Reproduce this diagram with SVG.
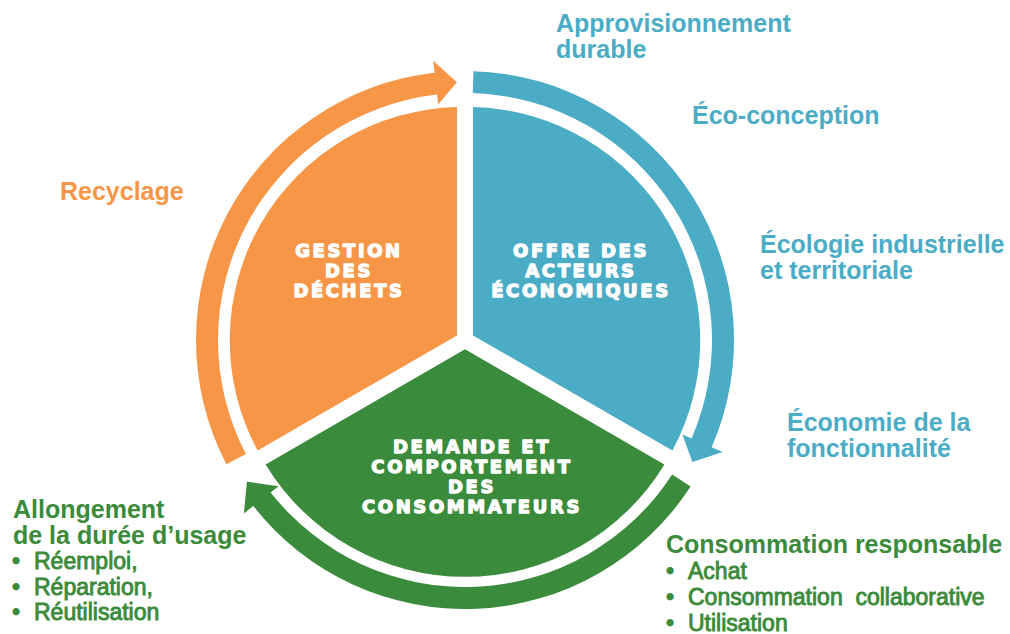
<svg xmlns="http://www.w3.org/2000/svg" width="1010" height="634" viewBox="0 0 1010 634">
  <style>
    .seg-label { font-family: "DejaVu Sans", "Liberation Sans", sans-serif; font-weight: bold; font-size: 18px; letter-spacing: 2.6px; fill: #ffffff; stroke: #ffffff; stroke-width: 1.3px; stroke-linejoin: round; text-anchor: middle; }
    .head { font-family: "Liberation Sans", Arial, sans-serif; font-weight: bold; font-size: 25px; }
    .item { font-family: "Liberation Sans", Arial, sans-serif; font-weight: normal; font-size: 23px; stroke-width: 0.9px; }
    .orange { fill: #F79646; }
    .blue { fill: #4BACC6; }
    .green { fill: #3A8C3C; }
    .t-orange { fill: #F79646; }
    .t-blue { fill: #4BACC6; }
    .t-green { fill: #3B8B3B; stroke: #3B8B3B; }
    .t-green.head { stroke: none; }
  </style>
  <rect width="1010" height="634" fill="#ffffff"/>

  <g id="connectors">
    <path id="arrow-orange" class="orange" d="M226.39,464.21 A269,269 0 0 1 434.55,72.73 L433.19,60.81 L456.90,82.13 L438.17,104.52 L437.04,94.59 A247,247 0 0 0 245.91,454.05 Z"/>
    <path id="arrow-blue" class="blue" d="M473.45,71.13 A269,269 0 0 1 711.69,447.26 L722.69,452.05 L692.38,461.92 L682.34,434.50 L691.51,438.49 A247,247 0 0 0 472.76,93.12 Z"/>
    <path id="arrow-green" class="green" d="M690.60,486.51 A269,269 0 0 1 253.31,505.98 L243.87,513.39 L246.95,481.61 L278.50,486.24 L270.63,492.41 A247,247 0 0 0 672.15,474.53 Z"/>
  </g>

  <g id="node-gestion">
    <path class="orange" d="M457,335.4 L257.6,450.5 A233,233 0 0 1 457,107.1 Z"/>
    <text class="seg-label" x="349" y="257">GESTION</text>
    <text class="seg-label" x="349" y="277">DES</text>
    <text class="seg-label" x="349" y="297">DÉCHETS</text>
  </g>

  <g id="node-offre">
    <path class="blue" d="M473,335.4 L473,107.1 A233,233 0 0 1 672.4,450.5 Z"/>
    <text class="seg-label" x="581" y="257">OFFRE DES</text>
    <text class="seg-label" x="581" y="277">ACTEURS</text>
    <text class="seg-label" x="581" y="297">ÉCONOMIQUES</text>
  </g>

  <g id="node-demande">
    <path class="green" d="M465,349.2 L664.4,464.4 A233,233 0 0 1 265.6,464.4 Z"/>
    <text class="seg-label" x="472" y="453">DEMANDE ET</text>
    <text class="seg-label" x="472" y="473">COMPORTEMENT</text>
    <text class="seg-label" x="472" y="493">DES</text>
    <text class="seg-label" x="472" y="513">CONSOMMATEURS</text>
  </g>

  <g id="labels">
    <text class="head t-blue" x="556" y="32">Approvisionnement</text>
    <text class="head t-blue" x="556" y="58">durable</text>
    <text class="head t-blue" x="692" y="124">Éco-conception</text>
    <text class="head t-blue" x="760" y="253">Écologie industrielle</text>
    <text class="head t-blue" x="760" y="279">et territoriale</text>
    <text class="head t-blue" x="787" y="431">Économie de la</text>
    <text class="head t-blue" x="787" y="457">fonctionnalité</text>
    <text class="head t-orange" x="60" y="200">Recyclage</text>

    <text class="head t-green" x="13" y="518">Allongement</text>
    <text class="head t-green" x="13" y="544">de la durée d’usage</text>
    <text class="item t-green" y="569"><tspan x="12">•</tspan><tspan x="34">Réemploi,</tspan></text>
    <text class="item t-green" y="595"><tspan x="12">•</tspan><tspan x="34">Réparation,</tspan></text>
    <text class="item t-green" y="620"><tspan x="12">•</tspan><tspan x="34">Réutilisation</tspan></text>

    <text class="head t-green" x="666" y="553">Consommation responsable</text>
    <text class="item t-green" y="579"><tspan x="666">•</tspan><tspan x="688">Achat</tspan></text>
    <text class="item t-green" y="605"><tspan x="666">•</tspan><tspan x="688">Consommation&#160; collaborative</tspan></text>
    <text class="item t-green" y="631"><tspan x="666">•</tspan><tspan x="688">Utilisation</tspan></text>
  </g>
</svg>
